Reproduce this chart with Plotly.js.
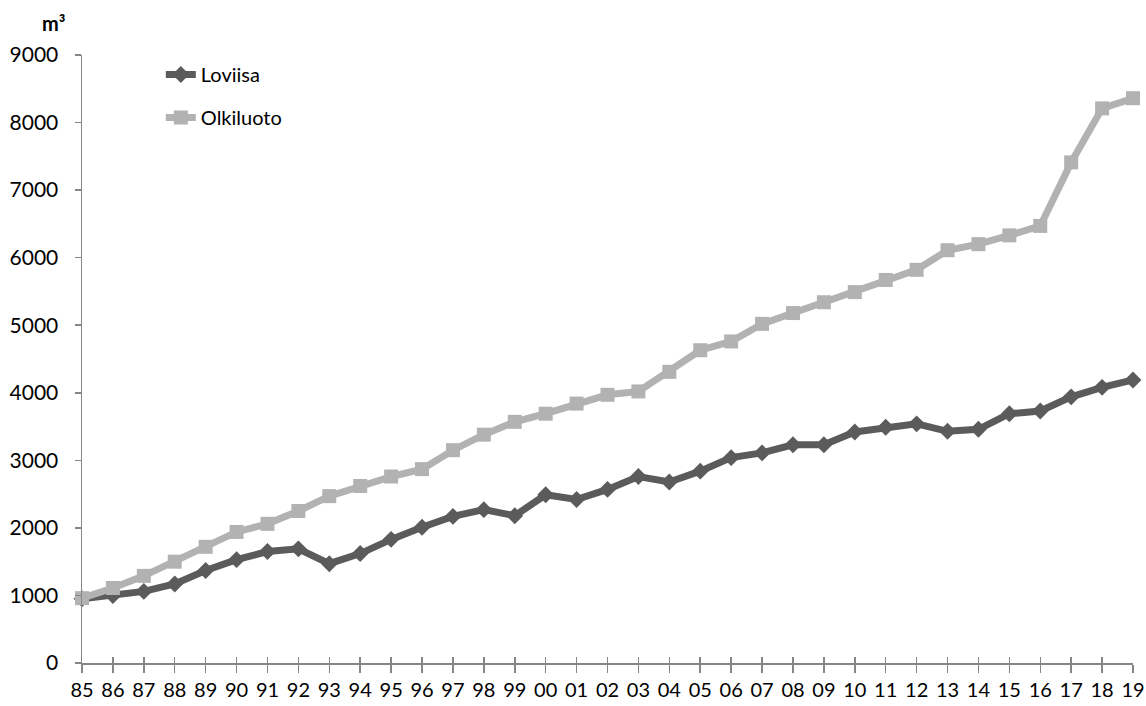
<!DOCTYPE html>
<html>
<head>
<meta charset="utf-8">
<script src="https://cdn.plot.ly/plotly-3.0.1.min.js"></script>
<style>html,body{margin:0;padding:0;background:#fff;}#chart{width:1146px;height:706px;}</style>
</head>
<body>
<div id="chart"></div>
<script>
const years = ["85","86","87","88","89","90","91","92","93","94","95","96","97","98","99","00","01","02","03","04","05","06","07","08","09","10","11","12","13","14","15","16","17","18","19"];
const loviisa = [950,1000,1060,1170,1370,1530,1650,1690,1470,1620,1830,2010,2170,2270,2180,2490,2420,2570,2760,2680,2840,3040,3110,3230,3230,3420,3490,3540,3430,3460,3690,3730,3940,4080,4190];
const olkiluoto = [960,1110,1290,1500,1720,1940,2060,2250,2470,2620,2760,2870,3150,3380,3570,3690,3840,3970,4020,4310,4630,4760,5020,5180,5340,5490,5670,5820,6110,6200,6330,6470,7410,8210,8360];
const yTicks = [0,1000,2000,3000,4000,5000,6000,7000,8000,9000];
const unitLabel = "m³";

const FONT = "Lato, 'Open Sans', 'Liberation Sans', sans-serif";

const traces = [
  {
    x: years, y: loviisa, name: "Loviisa", type: "scatter", mode: "lines+markers",
    line: {color: "#5b5b5b", width: 7},
    marker: {symbol: "diamond", size: 13, color: "#5b5b5b"},
    cliponaxis: false, legendgroup: "a"
  },
  {
    x: years, y: olkiluoto, name: "Olkiluoto", type: "scatter", mode: "lines+markers",
    line: {color: "#b2b2b2", width: 7},
    marker: {symbol: "square", size: 14, color: "#b2b2b2"},
    cliponaxis: false, legendgroup: "b"
  },
  {x: [], y: [], xaxis: "x2", showlegend: false, hoverinfo: "skip"}
];

const layout = {
  width: 1146, height: 706,
  margin: {l: 82, r: 13, t: 55, b: 43},
  paper_bgcolor: "#ffffff", plot_bgcolor: "#ffffff",
  font: {family: FONT, size: 20, color: "#000000"},
  showlegend: true,
  legend: {
    x: 0.075, y: 1.0, xanchor: "left", yanchor: "top",
    bgcolor: "rgba(0,0,0,0)", borderwidth: 0,
    font: {family: FONT, size: 20, color: "#000"},
    tracegroupgap: 14
  },
  xaxis: {
    type: "category", range: [0, years.length - 1],
    showline: true, linecolor: "#868686", linewidth: 1.5,
    ticks: "outside", ticklen: 8, tickcolor: "#868686", tickwidth: 1.5,
    showgrid: false, zeroline: false,
    tickfont: {family: FONT, size: 20, color: "#000"},
    fixedrange: true
  },
  xaxis2: {
    overlaying: "x", anchor: "y", side: "bottom",
    range: [0, years.length - 1], dtick: 1, tick0: 0,
    ticks: "inside", ticklen: 6, tickcolor: "#868686", tickwidth: 1.5,
    showticklabels: false, showgrid: false, zeroline: false, showline: false
  },
  yaxis: {
    range: [0, 9000], tickvals: yTicks,
    showline: true, linecolor: "#868686", linewidth: 1.5,
    ticks: "outside", ticklen: 6, tickcolor: "#868686", tickwidth: 1.5,
    showgrid: false, zeroline: false,
    tickfont: {family: FONT, size: 21, color: "#000"},
    ticklabelstandoff: 12,
    fixedrange: true
  },
  annotations: [{
    text: "<b>" + unitLabel + "</b>", xref: "paper", yref: "paper",
    x: -0.027, y: 1.029, xanchor: "center", yanchor: "bottom",
    showarrow: false, font: {family: FONT, size: 20, color: "#000"}
  }]
};

Plotly.newPlot("chart", traces, layout, {displayModeBar: false, staticPlot: true});
</script>
</body>
</html>
